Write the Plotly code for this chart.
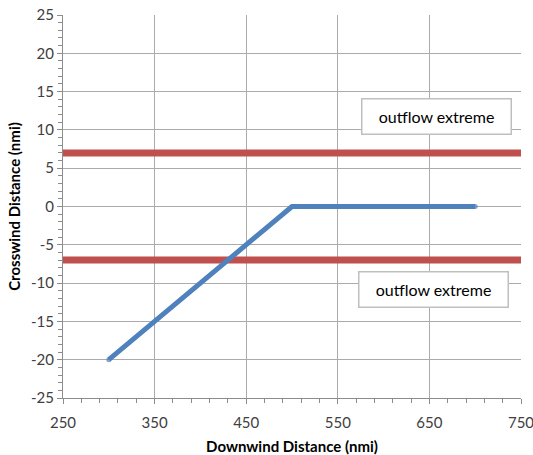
import plotly.graph_objects as go

# Track of the system: downwind vs crosswind distance (nmi)
track_x = [300, 500, 700]
track_y = [-20, 0, 0]

# Outflow extreme boundaries (crosswind, nmi)
bound_x = [250, 750]
upper_bound = [7, 7]
lower_bound = [-7, -7]

# Label text and anchor positions in data units
label_text = ["outflow extreme", "outflow extreme"]
label_x = [658, 655]
label_y = [11.7, -10.8]

# Axis ticks
x_ticks = [250, 350, 450, 550, 650, 750]
y_ticks = [-25, -20, -15, -10, -5, 0, 5, 10, 15, 20, 25]

FONT = "Lato, 'Open Sans', sans-serif"
RED = "#c0504d"
BLUE = "#4f81bd"

fig = go.Figure()
fig.add_trace(go.Scatter(x=bound_x, y=upper_bound, mode="lines",
                         line=dict(color=RED, width=7), hoverinfo="skip"))
fig.add_trace(go.Scatter(x=bound_x, y=lower_bound, mode="lines",
                         line=dict(color=RED, width=7), hoverinfo="skip"))
fig.add_trace(go.Scatter(x=track_x, y=track_y, mode="lines+markers",
                         line=dict(color=BLUE, width=5),
                         marker=dict(size=[5, 0, 5], color=BLUE,
                                     line=dict(width=0))))

for t, x, y in zip(label_text, label_x, label_y):
    fig.add_annotation(x=x, y=y, text=t, showarrow=False,
                       font=dict(family=FONT, size=16, color="#000000"),
                       bgcolor="white", bordercolor="#bfbfbf", borderwidth=1.5,
                       width=146, height=32, borderpad=1)

axis_common = dict(
    showgrid=True, gridcolor="#ababab", gridwidth=1,
    showline=True, linecolor="#8c8c8c", linewidth=1,
    ticks="outside", tickcolor="#8c8c8c", ticklen=5,
    tickfont=dict(family=FONT, size=15, color="#404040"),
    zeroline=False, mirror=False, tickmode="array",
    automargin=False, ticklabeloverflow="allow",
)

fig.update_layout(
    width=533, height=455,
    margin=dict(l=63, r=12, t=15, b=57),
    plot_bgcolor="white", paper_bgcolor="white",
    showlegend=False,
    xaxis=dict(range=[250, 750], tickvals=x_ticks,
               ticktext=[str(v) for v in x_ticks],
               ticklabelstandoff=6,
               minor=dict(dtick=20, tick0=250, ticks="outside", ticklen=4,
                          tickcolor="#8c8c8c", showgrid=False),
               title=dict(text="<b>Downwind Distance (nmi)</b>",
                          font=dict(family=FONT, size=15, color="#000000"),
                          standoff=14),
               **axis_common),
    yaxis=dict(range=[-25, 25], tickvals=y_ticks,
               ticktext=[str(v) for v in y_ticks],
               minor=dict(dtick=1, tick0=-25, ticks="outside", ticklen=4,
                          tickcolor="#8c8c8c", showgrid=False),
               title=dict(text="<b>Crosswind Distance (nmi)</b>",
                          font=dict(family=FONT, size=15, color="#000000"),
                          standoff=6),
               **axis_common),
)

fig.write_html("out.html")
